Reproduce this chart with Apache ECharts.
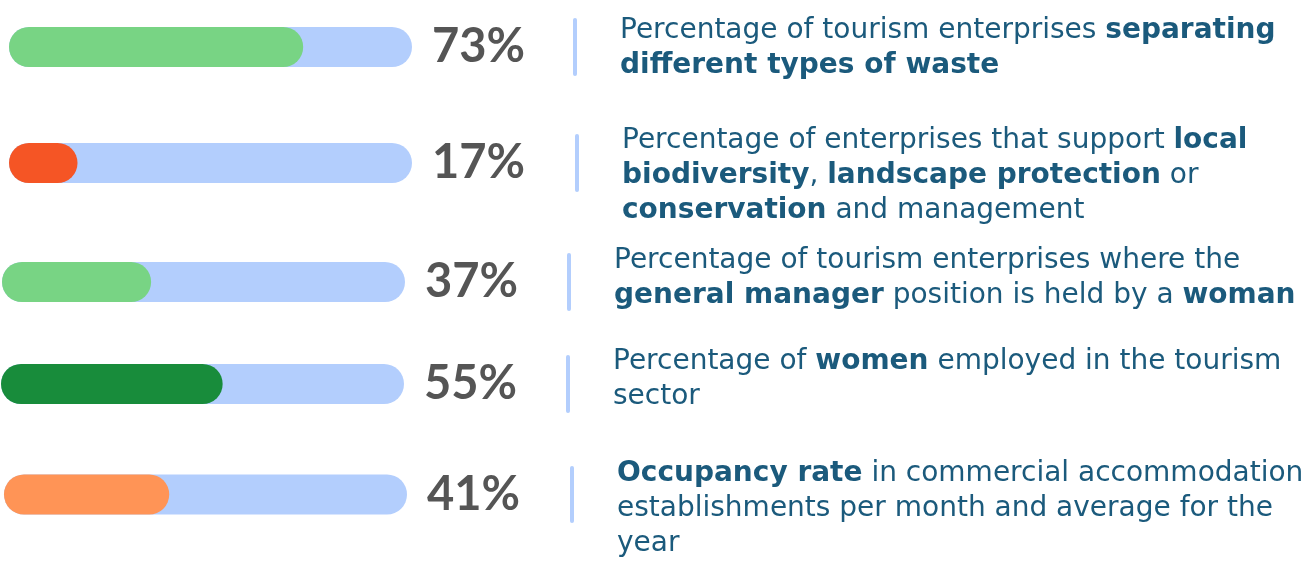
<!DOCTYPE html>
<html><head><meta charset="utf-8">
<script src="https://cdn.jsdelivr.net/npm/echarts@6/dist/echarts.min.js"></script>
<style>html,body{margin:0;padding:0;background:#fff}#c{width:1313px;height:561px}</style>
</head><body><div id="c"></div>
<script>
// ---- data ----
const indicators = ['Waste separation', 'Biodiversity support', 'Female general managers', 'Women employed', 'Occupancy rate'];
const values = [73, 17, 37, 55, 41];
const trackMax = 100;
const descriptions = [
  'Percentage of tourism enterprises {b|separating}\n{b|different types of waste}',
  'Percentage of enterprises that support {b|local}\n{b|biodiversity}, {b|landscape protection} or\n{b|conservation} and management',
  'Percentage of tourism enterprises where the\n{b|general manager} position is held by a {b|woman}',
  'Percentage of {b|women} employed in the tourism\nsector',
  '{b|Occupancy rate} in commercial accommodation\nestablishments per month and average for the\nyear'
];
const barColors = ['#78d484', '#f55525', '#188c3b', '#ff9456'];
const colorIndex = [0, 1, 0, 2, 3];

// ---- layout (not data) ----
const rowLeft = [9, 9, 2, 1, 4];
const rowCenter = [47, 163, 282, 384, 495];
const sepOffset = [163, 165, 164, 164, 165];
const textShift = [1, 13, -4, -5, 14];
const trackColor = '#b3cefd';
const textColor = '#1b5a7c';
const textFont = 'DejaVu Sans';
const textSize = 28;

const grid = [], xAxis = [], yAxis = [], series = [];
values.forEach((v, i) => {
  grid.push({ left: rowLeft[i], width: 403, top: rowCenter[i] - 27, height: 54, containLabel: false });
  xAxis.push({ type: 'value', gridIndex: i, min: 0, max: trackMax, show: false });
  const sh = textShift[i];
  yAxis.push({
    type: 'category', gridIndex: i, data: [indicators[i]], position: 'right', offset: sepOffset[i],
    axisLine: { show: true, onZero: false, lineStyle: { color: trackColor, width: 4, cap: 'round' } },
    axisTick: { show: false }, splitLine: { show: false },
    axisLabel: {
      margin: 45, align: 'left', color: textColor, fontFamily: textFont, fontSize: textSize, lineHeight: 35,
      padding: sh >= 0 ? [2 * sh, 0, 0, 0] : [0, 0, -2 * sh, 0],
      formatter: () => descriptions[i],
      rich: { b: { fontWeight: 'bold', color: textColor, fontFamily: textFont, fontSize: textSize, lineHeight: 35 } }
    }
  });
  series.push({
    type: 'bar', xAxisIndex: i, yAxisIndex: i, data: [trackMax], barWidth: 40, barGap: '-100%', silent: true,
    itemStyle: { color: trackColor, borderRadius: 20 },
    label: { show: true, position: 'right', distance: 20, formatter: () => values[i] + '%',
      fontFamily: 'Lato', fontWeight: 'bold', fontSize: 47, color: '#555555' },
    z: 1
  });
  series.push({
    type: 'bar', xAxisIndex: i, yAxisIndex: i, data: [v], barWidth: 40, barGap: '-100%', silent: true,
    itemStyle: { color: barColors[colorIndex[i]], borderRadius: 20 },
    z: 2
  });
});

const chart = echarts.init(document.getElementById('c'), null, { renderer: 'canvas' });
chart.setOption({ animation: false, backgroundColor: '#ffffff', grid, xAxis, yAxis, series });
</script></body></html>
